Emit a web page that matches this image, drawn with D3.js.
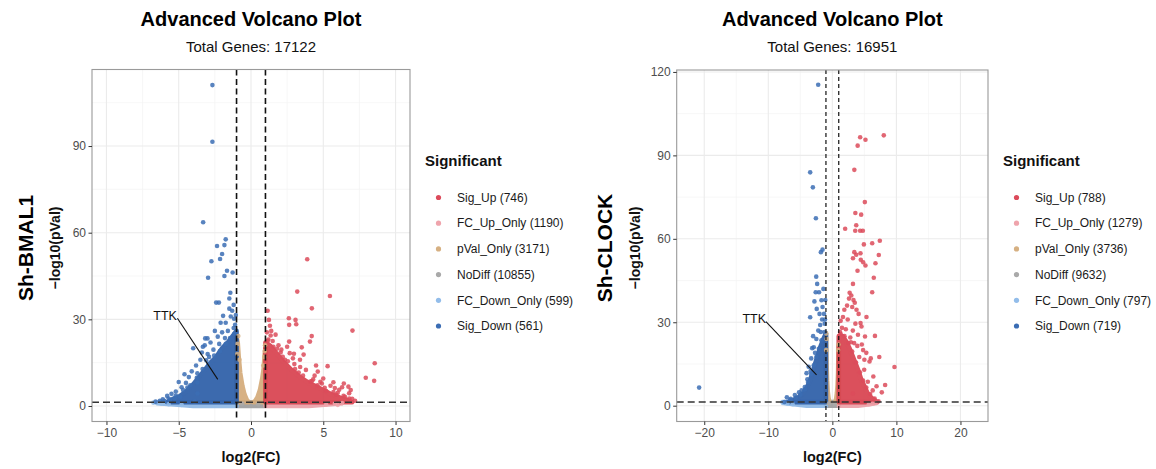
<!DOCTYPE html>
<html>
<head>
<meta charset="utf-8">
<script src="https://cdn.jsdelivr.net/npm/d3@7"></script>
<style>
  body { margin: 0; background: #fff; }
  svg text { font-family: "Liberation Sans", Arial, Helvetica, sans-serif; }
</style>
</head>
<body>
<svg id="chart" width="1156" height="469"></svg>
<script>
// legend categories, in legend order
const categories = ['Sig_Up', 'FC_Up_Only', 'pVal_Only', 'NoDiff', 'FC_Down_Only', 'Sig_Down'];
const colors = ['#dc4b5b', '#efa4ac', '#d6b082', '#a9a9a9', '#93bdea', '#3b6db4'];
const coreColors = ['#d8424f', '#eca0a8', '#d4ab7a', '#9e9e9e', '#8db8e6', '#2c5ea8'];

const bmalCounts = [746, 1190, 3171, 10855, 599, 561];
const clockCounts = [788, 1279, 3736, 9632, 797, 719];

// ---- Sh-BMAL1: dense cores (outline of the saturated clouds), log2FC / -log10 p
const bmalCoreSigUp = [[1.0, 1.3], [1.0, 22], [1.3, 21], [1.8, 18], [2.3, 15], [2.8, 12.5], [3.4, 10], [4.0, 8],
  [4.8, 6], [5.5, 4.2], [6.2, 2.8], [6.8, 1.8], [7.0, 1.3]];
const bmalCoreFcUp = [[1, 0], [4, 0], [5.5, 0.6], [6.3, 1.0], [6.3, 1.3], [1, 1.3]];
const bmalCorePvalL = [[-1, 1.3], [-1, 24], [-0.92, 22], [-0.85, 17], [-0.75, 11.5], [-0.6, 7], [-0.45, 4], [-0.3, 2.2], [-0.15, 1.3]];
const bmalCorePvalR = [[1, 1.3], [1, 20], [0.95, 18], [0.88, 13], [0.78, 9.5], [0.62, 5.5], [0.45, 3], [0.3, 1.8], [0.15, 1.3]];
const bmalCoreNoDiff = [[-1, 0], [1, 0], [1, 1.3], [-1, 1.3]];
const bmalCoreFcDown = [[-1, 0], [-4, 0], [-5.5, 0.6], [-6.5, 1.0], [-6.5, 1.3], [-1, 1.3]];
const bmalCoreSigDown = [[-1.0, 1.3], [-1.0, 26], [-1.3, 24], [-1.6, 22], [-2.0, 20], [-2.4, 17], [-2.8, 15], [-3.2, 12.5],
  [-3.6, 10], [-4.0, 7.5], [-4.5, 5], [-5.0, 3.2], [-5.5, 2.2], [-5.8, 1.3]];

// ---- Sh-BMAL1: individual genes
const bmalSigUp = [[3.89, 50.8], [3.2, 39.6], [5.46, 38.1], [4.21, 33.8], [1.15, 33.0], [1.24, 29.8], [2.62, 30.4],
  [3.08, 29.8], [2.64, 28.1], [3.13, 28.3], [1.31, 27.8], [7.02, 26.1], [4.2, 24.2], [1.36, 24.4], [2.64, 22.3],
  [4.08, 22.3], [3.51, 20.3], [2.68, 18.3], [2.97, 18.1], [3.64, 17.8], [2.35, 16.0], [3.39, 16.0], [5.3, 13.8],
  [8.56, 14.8], [4.62, 11.9], [7.94, 9.8], [8.52, 8.7], [6.42, 7.8], [6.74, 6.7], [6.79, 4.4], [6.1, 5.6], [5.9, 3.9],
  [4.9, 7.8], [4.1, 8.5], [1.5, 22.5], [1.9, 21], [2.1, 19.5], [1.2, 23], [3.0, 14.5], [3.8, 12.5], [4.4, 10.5],
  [5.0, 9.5], [5.5, 7], [5.8, 6.2], [6.5, 3.2], [7.0, 2.5], [6.9, 5.5], [2.5, 20.5], [4.5, 14], [5.7, 8.2], [6.3, 6.5],
  [3.4, 13.5], [2.2, 17], [1.7, 24.7], [1.1, 25.5], [1.4, 26], [2.9, 16.5], [5.2, 5.2], [6.0, 4.6], [4.3, 9.2],
  [1.15, 22.5], [1.55, 20.5], [2.05, 18.5], [2.55, 15.5], [3.05, 12.8], [3.6, 10.5], [4.2, 8.6], [4.6, 7.2],
  [5.1, 6.3], [5.7, 4.8], [6.4, 3.5], [6.8, 2.6], [7.2, 1.8], [1.8, 19.8], [3.3, 11.6], [4.8, 8.4]];
const bmalFcUp = [[6.3, 1.0], [5.8, 0.8], [5.2, 0.5], [6.0, 0.4]];
const bmalPval = [[-0.88, 24.2], [-0.93, 21.5], [-0.95, 18], [0.95, 19], [0.92, 17], [0.97, 21], [-0.8, 16], [0.85, 14]];
const bmalNoDiff = [[-0.6, 0.8], [0.5, 0.6]];
const bmalFcDown = [[-6.75, 1.15], [-6.2, 0.9], [-5.7, 0.6], [-4.8, 0.4]];
const bmalSigDown = [[-2.67, 111.1], [-2.67, 91.5], [-3.31, 63.6], [-1.75, 57.7], [-2.35, 55.4], [-1.84, 55.7],
  [-2.0, 52.6], [-2.14, 50.9], [-2.74, 50.1], [-1.66, 46.8], [-1.27, 46.2], [-1.84, 45.0], [-2.97, 44.4], [-1.43, 39.2],
  [-1.5, 37.2], [-2.41, 35.8], [-2.22, 35.8], [-1.5, 33.7], [-1.93, 31.2], [-1.17, 30.2], [-1.75, 28.8], [-2.1, 28.8],
  [-1.1, 28.1], [-3.01, 23.4], [-3.17, 23.4], [-3.33, 20.5], [-3.71, 11.3], [-3.71, 8.1], [-6.1, 2.3], [-4.9, 3.2],
  [-5.6, 2.1], [-5.3, 2.7], [-3.9, 1.5], [-3.7, 4.3], [-1.2, 35], [-1.3, 33], [-1.6, 26], [-2.5, 26], [-2.3, 24],
  [-2.8, 22], [-2.6, 19.5], [-3.0, 18], [-3.5, 16], [-3.8, 14], [-4.1, 12], [-4.3, 10], [-4.5, 8], [-4.8, 6.5],
  [-5.2, 5], [-5.8, 3.5], [-6.3, 1.8], [-4.0, 20], [-1.4, 31], [-1.2, 27], [-2.0, 25.5], [-1.8, 23.5], [-3.4, 18.5],
  [-4.6, 11], [-5.0, 8.3], [-3.2, 21], [-1.05, 31.5], [-2.9, 17], [-5.5, 4.2], [-6.6, 1.5],
  [-1.15, 25], [-1.45, 23.5], [-1.75, 21.5], [-2.15, 19], [-2.55, 17.5], [-2.95, 14.5], [-3.35, 12.8], [-3.75, 9.8],
  [-4.2, 7.2], [-4.7, 5.5], [-5.2, 3.6], [-5.7, 2.6], [-6.0, 1.8], [-2.2, 21.5], [-3.1, 15.8], [-4.4, 6.4]];

// ---- Sh-CLOCK: dense cores
const clockCoreSigUp = [[1, 1.3], [1, 25], [1.6, 25], [2.2, 23], [2.8, 20], [3.4, 16.5], [4.0, 13], [4.5, 9.5],
  [5.0, 7], [5.5, 4.5], [6.2, 2.6], [7.0, 1.3]];
const clockCoreFcUp = [[1, 0], [4, 0], [5.8, 0.5], [6.8, 1.0], [6.8, 1.3], [1, 1.3]];
const clockCorePvalL = [[-1, 1.3], [-1, 26], [-0.95, 22], [-0.9, 15], [-0.82, 9], [-0.72, 5], [-0.6, 2.8], [-0.45, 1.3]];
const clockCorePvalR = [[1, 1.3], [1, 22], [0.95, 18], [0.9, 12], [0.82, 7.5], [0.72, 4.5], [0.6, 2.5], [0.45, 1.3]];
const clockCoreNoDiff = [[-1, 0], [1, 0], [1, 1.3], [-1, 1.3]];
const clockCoreFcDown = [[-1, 0], [-4, 0], [-6, 0.5], [-7.5, 1.0], [-7.8, 1.3], [-1, 1.3]];
const clockCoreSigDown = [[-1, 1.3], [-1, 26], [-1.4, 24], [-1.9, 21], [-2.3, 18], [-2.7, 15], [-3.1, 12], [-3.5, 9],
  [-4.0, 6.5], [-4.6, 4.4], [-5.3, 3], [-6.1, 2], [-7.0, 1.3]];

// ---- Sh-CLOCK: individual genes
const clockSigUp = [[8.03, 97.2], [4.34, 96.5], [5.17, 95.6], [3.95, 93.5], [3.43, 84.8], [5.07, 73.2], [3.59, 69.3],
  [4.5, 68.7], [3.73, 64.9], [2.0, 63.6], [3.57, 62.9], [4.34, 62.9], [4.76, 62.9], [7.41, 59.3], [6.22, 58.4],
  [4.92, 58.0], [3.43, 55.2], [4.39, 54.8], [3.73, 54.3], [3.22, 53.0], [7.25, 54.2], [4.44, 52.5], [4.81, 51.6],
  [5.17, 50.4], [6.73, 51.2], [3.93, 48.5], [6.47, 46.0], [3.22, 43.8], [6.22, 40.8], [2.7, 40.6], [2.96, 39.6],
  [3.3, 38.0], [3.5, 37.0], [3.77, 34.5], [1.87, 34.5], [1.66, 31.9], [5.33, 31.9], [4.4, 29.7], [4.55, 28.5],
  [6.65, 25.1], [5.1, 24.9], [7.33, 17.5], [9.7, 13.9], [5.8, 15.9], [4.97, 12.9], [8.24, 7.45], [7.72, 4.8],
  [5.54, 8.6], [3.2, 4.4], [2.3, 36], [2.6, 38.5], [3.1, 35.5], [4.1, 33], [2.4, 31], [3.6, 29.5], [1.3, 30.5],
  [1.5, 28], [2.1, 27.5], [3.2, 27], [4.0, 25.5], [4.6, 22], [5.3, 19], [6.0, 17], [5.0, 16.5], [6.4, 10.5], [6.9, 7],
  [6.3, 5.5], [4.8, 20], [3.9, 21.5], [1.2, 26.5], [2.8, 24.5], [3.4, 22.5],
  [1.3, 25.8], [1.9, 25], [2.5, 22.5], [3.1, 19.5], [3.7, 15.5], [4.3, 12], [4.8, 9], [5.3, 6.5], [5.9, 4.2],
  [6.6, 2.6], [7.2, 1.6], [4.2, 17.5], [2.9, 22.8]];
const clockFcUp = [[6.9, 1.0], [6.3, 0.7], [5.7, 0.5]];
const clockPval = [[-0.95, 26], [-0.9, 24], [0.95, 22], [0.9, 20], [-0.97, 20]];
const clockNoDiff = [[-0.5, 0.8], [0.4, 0.6]];
const clockFcDown = [[-7.7, 1.0], [-7.0, 0.8], [-6.2, 0.5]];
const clockSigDown = [[-2.21, 115.4], [-3.46, 83.9], [-3.04, 78.5], [-2.57, 67.4], [-1.79, 55.2], [-1.53, 56.1],
  [-2.52, 46.4], [-2.37, 43.8], [-2.6, 40.8], [-2.08, 40.8], [-2.8, 37.5], [-1.7, 37.9], [-2.44, 34.8], [-1.53, 35.5],
  [-3.46, 31.8], [-3.15, 20.7], [-4.03, 11.7], [-20.8, 6.5], [-4.3, 6.7], [-5.85, 3.85], [-7.1, 3.0], [-7.5, 1.35],
  [-1.3, 33], [-1.6, 31], [-1.9, 29], [-2.2, 27], [-1.2, 29.5], [-2.5, 24], [-2.9, 21], [-3.3, 17], [-3.7, 14],
  [-3.9, 9.5], [-4.8, 5.5], [-5.2, 4.8], [-6.5, 2.5], [-1.1, 38], [-1.4, 42], [-2.0, 33], [-1.8, 26.5], [-3.0, 25],
  [-2.7, 19], [-3.4, 12.5], [-1.15, 31],
  [-1.2, 26.5], [-1.7, 23.5], [-2.1, 20.5], [-2.5, 17.5], [-2.9, 14.5], [-3.3, 11.5], [-3.8, 8.5], [-4.3, 5.8],
  [-5.0, 4.0], [-5.7, 2.8], [-6.6, 2.0]];

// TTK label: label position, segment start, gene position
const bmalTTK = [[-5.94, 31.2], [-5.09, 30.4], [-2.3, 9.2]];
const clockTTK = [[-12.2, 31.5], [-10.37, 30.2], [-2.47, 11.05]];

// axis ticks
const bmalXTicks = [-10, -5, 0, 5, 10];
const bmalXMinor = [-7.5, -2.5, 2.5, 7.5];
const bmalYTicks = [0, 30, 60, 90];
const clockXTicks = [-20, -10, 0, 10, 20];
const clockXMinor = [-15, -5, 5, 15];
const clockYTicks = [0, 30, 60, 90, 120];
const yMinor = [15, 45, 75, 105];

const svg = d3.select('#chart');

const panels = [
  {
    name: 'Sh-BMAL1', total: 17122, counts: bmalCounts,
    left: 92, right: 410, top: 69.5, bottom: 421.5,
    xDomain: [-11, 11], yDomain: [-5.37, 116.5],
    xTicks: bmalXTicks, xMinor: bmalXMinor, yTicks: bmalYTicks,
    cores: [[bmalCoreNoDiff, 3], [bmalCoreFcDown, 4], [bmalCoreFcUp, 1], [bmalCorePvalL, 2], [bmalCorePvalR, 2],
      [bmalCoreSigUp, 0], [bmalCoreSigDown, 5]],
    points: [[bmalNoDiff, 3], [bmalFcDown, 4], [bmalFcUp, 1], [bmalPval, 2], [bmalSigUp, 0], [bmalSigDown, 5]],
    ttk: bmalTTK, rowX: 25, yTitleX: 55, legendX: 425, vWidth: 1.6, vDash: '6,3.5'
  },
  {
    name: 'Sh-CLOCK', total: 16951, counts: clockCounts,
    left: 676.7, right: 988, top: 70, bottom: 421.5,
    xDomain: [-24.3, 24.3], yDomain: [-5.68, 120.7],
    xTicks: clockXTicks, xMinor: clockXMinor, yTicks: clockYTicks,
    cores: [[clockCoreNoDiff, 3], [clockCoreFcDown, 4], [clockCoreFcUp, 1], [clockCorePvalL, 2], [clockCorePvalR, 2],
      [clockCoreSigUp, 0], [clockCoreSigDown, 5]],
    points: [[clockNoDiff, 3], [clockFcDown, 4], [clockFcUp, 1], [clockPval, 2], [clockSigUp, 0], [clockSigDown, 5]],
    ttk: clockTTK, rowX: 604, yTitleX: 635, legendX: 1003, vWidth: 1.2, vDash: '4,3'
  }
];

panels.forEach(drawPanel);

function drawPanel(p) {
  const x = d3.scaleLinear().domain(p.xDomain).range([p.left, p.right]);
  const y = d3.scaleLinear().domain(p.yDomain).range([p.bottom, p.top]);
  const g = svg.append('g');
  const cx = (p.left + p.right) / 2;

  // grid
  const grid = g.append('g');
  grid.selectAll('.xmin').data(p.xMinor).enter().append('line')
    .attr('x1', d => x(d)).attr('x2', d => x(d)).attr('y1', p.top).attr('y2', p.bottom)
    .attr('stroke', '#f3f3f3').attr('stroke-width', 0.7);
  grid.selectAll('.ymin').data(yMinor).enter().append('line')
    .attr('y1', d => y(d)).attr('y2', d => y(d)).attr('x1', p.left).attr('x2', p.right)
    .attr('stroke', '#f3f3f3').attr('stroke-width', 0.7);
  grid.selectAll('.xmaj').data(p.xTicks).enter().append('line')
    .attr('x1', d => x(d)).attr('x2', d => x(d)).attr('y1', p.top).attr('y2', p.bottom)
    .attr('stroke', '#ebebeb').attr('stroke-width', 1.1);
  grid.selectAll('.ymaj').data(p.yTicks).enter().append('line')
    .attr('y1', d => y(d)).attr('y2', d => y(d)).attr('x1', p.left).attr('x2', p.right)
    .attr('stroke', '#ebebeb').attr('stroke-width', 1.1);

  // dense clouds
  const line = d3.line().x(d => x(d[0])).y(d => y(d[1])).curve(d3.curveLinearClosed);
  p.cores.forEach(([pts, ci]) => {
    g.append('g').attr('opacity', 0.92).append('path')
      .attr('d', line(pts))
      .attr('fill', coreColors[ci])
      .attr('stroke', coreColors[ci])
      .attr('stroke-width', 4.6)
      .attr('stroke-linejoin', 'round');
  });

  // single genes
  p.points.forEach(([pts, ci]) => {
    g.append('g').selectAll('circle').data(pts).enter().append('circle')
      .attr('cx', d => x(d[0])).attr('cy', d => y(d[1])).attr('r', 2.3)
      .attr('fill', colors[ci]).attr('opacity', 0.85);
  });

  // threshold lines
  g.append('line')
    .attr('x1', p.left).attr('x2', p.right).attr('y1', y(-Math.log10(0.05))).attr('y2', y(-Math.log10(0.05)))
    .attr('stroke', '#333').attr('stroke-width', 1.5).attr('stroke-dasharray', '7,4');
  [-1, 1].forEach(v => {
    g.append('line')
      .attr('x1', x(v)).attr('x2', x(v)).attr('y1', p.top).attr('y2', p.bottom)
      .attr('stroke', '#111').attr('stroke-width', p.vWidth).attr('stroke-dasharray', p.vDash);
  });

  // TTK label
  g.append('line')
    .attr('x1', x(p.ttk[1][0])).attr('y1', y(p.ttk[1][1]))
    .attr('x2', x(p.ttk[2][0])).attr('y2', y(p.ttk[2][1]))
    .attr('stroke', '#111').attr('stroke-width', 1.1);
  g.append('text')
    .attr('x', x(p.ttk[0][0])).attr('y', y(p.ttk[0][1]) + 4.5)
    .attr('text-anchor', 'middle').style('font-size', '12.5px').attr('fill', '#111')
    .text('TTK');

  // border
  g.append('rect')
    .attr('x', p.left).attr('y', p.top).attr('width', p.right - p.left).attr('height', p.bottom - p.top)
    .attr('fill', 'none').attr('stroke', '#9a9a9a').attr('stroke-width', 1.1);

  // axes
  const xAxis = g.append('g').attr('transform', `translate(0,${p.bottom})`)
    .call(d3.axisBottom(x).tickValues(p.xTicks).tickSize(3.5).tickPadding(3).tickFormat(d => d < 0 ? '\u2212' + (-d) : d));
  const yAxis = g.append('g').attr('transform', `translate(${p.left},0)`)
    .call(d3.axisLeft(y).tickValues(p.yTicks).tickSize(3.5).tickPadding(2.5));
  [xAxis, yAxis].forEach(a => {
    a.select('.domain').remove();
    a.selectAll('line').attr('stroke', '#333');
    a.selectAll('text').attr('fill', '#4d4d4d').style('font-size', '12px');
  });

  // titles
  g.append('text').attr('x', cx).attr('y', 26).attr('text-anchor', 'middle')
    .style('font-size', '20px').style('font-weight', 'bold').attr('fill', '#000')
    .text('Advanced Volcano Plot');
  g.append('text').attr('x', cx).attr('y', 52).attr('text-anchor', 'middle')
    .style('font-size', '15px').attr('fill', '#111')
    .text(`Total Genes: ${p.total}`);
  g.append('text').attr('x', cx).attr('y', 462).attr('text-anchor', 'middle')
    .style('font-size', '14.5px').style('font-weight', 'bold').attr('fill', '#111')
    .text('log2(FC)');
  const ym = 248;
  g.append('text').attr('transform', `translate(${p.yTitleX + 5},${ym}) rotate(-90)`)
    .attr('text-anchor', 'middle').style('font-size', '14px').style('font-weight', 'bold').attr('fill', '#111')
    .text('\u2212log10(pVal)');
  g.append('text').attr('transform', `translate(${p.rowX + 8},${ym}) rotate(-90)`)
    .attr('text-anchor', 'middle').style('font-size', '21px').style('font-weight', 'bold').attr('fill', '#000')
    .text(p.name);

  // legend
  const lg = g.append('g');
  lg.append('text').attr('x', p.legendX).attr('y', 166)
    .style('font-size', '15px').style('font-weight', 'bold').attr('fill', '#111')
    .text('Significant');
  const rows = lg.selectAll('.row').data(categories).enter().append('g')
    .attr('transform', (d, i) => `translate(${p.legendX}, ${197.5 + i * 25.7})`);
  rows.append('circle').attr('cx', 13.5).attr('cy', 0).attr('r', 2.6)
    .attr('fill', (d, i) => colors[i]);
  rows.append('text').attr('x', 32).attr('y', 4.2)
    .style('font-size', '12px').attr('fill', '#1a1a1a')
    .text((d, i) => `${d} (${p.counts[i]})`);
}
</script>
</body>
</html>
